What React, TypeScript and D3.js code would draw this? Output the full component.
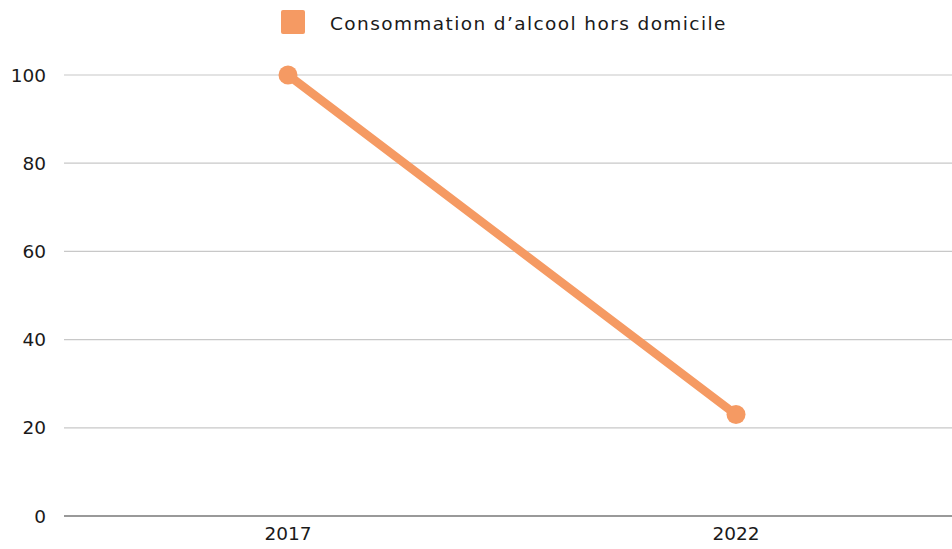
import React from "react";
import * as d3 from "d3";

const categories = ["2017", "2022"];
const values = [100, 23];
const yTicks = [0, 20, 40, 60, 80, 100];
const seriesName = "Consommation d\u2019alcool hors domicile";

const W = 952;
const H = 549;
const COLOR = "#F59A63";
const FONT = "'DejaVu Sans', sans-serif";

export default function App() {
  const x = d3.scaleBand<string>().domain(categories).range([64, 960]);
  const y = d3.scaleLinear().domain([0, 100]).range([516, 75]);
  const line = d3
    .line<number>()
    .x((_, i) => (x(categories[i]) ?? 0) + x.bandwidth() / 2)
    .y((d) => y(d));

  return (
    <svg
      width={W}
      height={H}
      style={{ position: "absolute", left: 0, top: 0, background: "#fff" }}
      fontFamily={FONT}
    >
      {yTicks.map((t) => (
        <g key={t}>
          <line
            x1={64}
            x2={W}
            y1={y(t)}
            y2={y(t)}
            stroke={t === 0 ? "#777" : "#c8c8c8"}
            strokeWidth={t === 0 ? 1.5 : 1.2}
          />
          <text
            x={46}
            y={y(t)}
            dy="0.36em"
            textAnchor="end"
            fontSize={18.5}
            fill="#1a1a1a"
          >
            {t}
          </text>
        </g>
      ))}
      {categories.map((c) => (
        <text
          key={c}
          x={(x(c) ?? 0) + x.bandwidth() / 2}
          y={540}
          textAnchor="middle"
          fontSize={18.5}
          fill="#1a1a1a"
        >
          {c}
        </text>
      ))}
      <path
        d={line(values) ?? ""}
        fill="none"
        stroke={COLOR}
        strokeWidth={8.5}
        strokeLinecap="round"
      />
      {values.map((v, i) => (
        <circle
          key={i}
          cx={(x(categories[i]) ?? 0) + x.bandwidth() / 2}
          cy={y(v)}
          r={9.5}
          fill={COLOR}
        />
      ))}
      <rect x={281} y={10} width={24} height={24} rx={2} fill={COLOR} />
      <text x={330} y={30} fontSize={18.5} letterSpacing={1.4} fill="#1a1a1a">
        {seriesName}
      </text>
    </svg>
  );
}
